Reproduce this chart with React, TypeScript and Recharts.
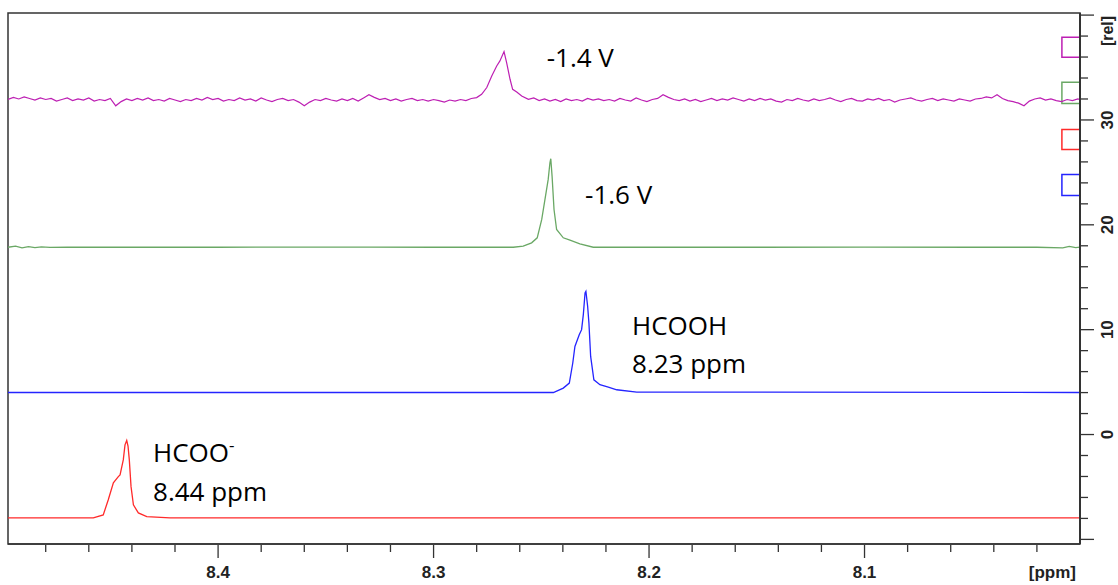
import React from 'react';
import { LineChart, Line, XAxis, YAxis, ReferenceArea, ReferenceDot } from 'recharts';

type Pt = [number, number];

const X_DOMAIN: [number, number] = [8.0, 8.4975];
const Y_DOMAIN: [number, number] = [-10.44, 40.2];

const xTicks = [
  8.02, 8.04, 8.06, 8.08, 8.1, 8.12, 8.14, 8.16, 8.18, 8.2, 8.22, 8.24,
  8.26, 8.28, 8.3, 8.32, 8.34, 8.36, 8.38, 8.4, 8.42, 8.44, 8.46, 8.48,
];
const xLabelTicks = [8.1, 8.2, 8.3, 8.4];
const yTicks = [
  -10, -8, -6, -4, -2, 0, 2, 4, 6, 8, 10, 12, 14, 16, 18, 20, 22, 24, 26, 28,
  30, 32, 34, 36, 38, 40,
];
const yLabelTicks = [0, 10, 20, 30];

// HCOO- (red, bottom trace)
const redHCOO: Pt[] = [
  [8.4975, -7.95], [8.4579, -7.95], [8.4533, -7.67], [8.451, -6.24], [8.4486, -4.61],
  [8.4463, -4.01], [8.4455, -3.85], [8.444, -2.42], [8.4432, -0.98], [8.4424, -0.57],
  [8.4418, -1.1], [8.4412, -2.42], [8.4404, -4.97], [8.4393, -6.71], [8.437, -7.48],
  [8.4331, -7.83], [8.4223, -7.95], [8.0, -7.95],
];

// HCOOH (blue)
const blueHCOOH: Pt[] = [
  [8.4975, 4.01], [8.2444, 4.01], [8.2398, 4.43], [8.237, 4.91], [8.2354, 6.82],
  [8.2344, 8.4], [8.2324, 9.52], [8.2313, 10.0], [8.2305, 11.43], [8.2297, 13.51],
  [8.2293, 13.66], [8.2285, 12.23], [8.2279, 10.64], [8.2271, 7.45], [8.2256, 5.22],
  [8.2228, 4.75], [8.2189, 4.53], [8.215, 4.27], [8.2057, 4.05], [8.0, 4.01],
];

// -1.6 V (green)
const greenMinus16: Pt[] = [
  [8.4975, 17.86], [8.494, 17.96], [8.491, 17.8], [8.488, 17.92], [8.485, 17.82],
  [8.482, 17.9], [8.478, 17.84], [8.47, 17.86], [8.4, 17.86], [8.33, 17.88],
  [8.3, 17.86], [8.263, 17.86], [8.2584, 17.96], [8.2545, 18.28], [8.2519, 18.76],
  [8.2498, 20.51], [8.2483, 22.42], [8.2468, 24.33], [8.246, 25.92], [8.2456, 26.3],
  [8.245, 24.64], [8.2441, 21.46], [8.2429, 19.55], [8.2398, 18.76], [8.2367, 18.53],
  [8.2321, 18.19], [8.2259, 17.86], [8.15, 17.86], [8.1, 17.88], [8.05, 17.86],
  [8.02, 17.86], [8.008, 17.8], [8.005, 17.95], [8.002, 17.82], [8.0, 17.88],
];

// -1.4 V (magenta, noisy)
const magentaMinus14: Pt[] = [
  [8.4975, 31.95], [8.495, 32.15], [8.4925, 32.0], [8.49, 32.2], [8.4875, 32.05],
  [8.485, 31.9], [8.4825, 32.1], [8.48, 31.95], [8.4775, 32.05], [8.475, 31.8],
  [8.4725, 31.95], [8.47, 32.1], [8.4675, 31.85], [8.465, 32.0], [8.4625, 31.9],
  [8.46, 32.1], [8.4575, 31.8], [8.455, 31.95], [8.4525, 31.85], [8.45, 32.05],
  [8.4475, 31.35], [8.445, 31.75], [8.4425, 32.0], [8.44, 31.85], [8.4375, 32.05],
  [8.435, 31.9], [8.4325, 32.1], [8.43, 31.85], [8.4275, 31.95], [8.425, 31.8],
  [8.4225, 32.05], [8.42, 31.9], [8.4175, 31.75], [8.415, 31.95], [8.4125, 31.85],
  [8.41, 32.05], [8.4075, 31.9], [8.405, 32.15], [8.4025, 31.95], [8.4, 32.05],
  [8.3975, 31.8], [8.395, 31.95], [8.3925, 31.85], [8.39, 32.1], [8.3875, 31.9],
  [8.385, 32.0], [8.3825, 31.8], [8.38, 32.1], [8.3775, 31.9], [8.375, 31.75],
  [8.3725, 31.95], [8.37, 32.05], [8.3675, 31.85], [8.365, 31.95], [8.3625, 31.7],
  [8.36, 31.35], [8.3575, 31.7], [8.355, 31.95], [8.3525, 31.85], [8.35, 32.05],
  [8.3475, 31.9], [8.345, 31.8], [8.3425, 32.0], [8.34, 31.85], [8.3375, 32.05],
  [8.335, 31.8], [8.3325, 32.1], [8.33, 32.4], [8.3275, 32.15], [8.325, 31.95],
  [8.3225, 32.05], [8.32, 31.85], [8.3175, 32.0], [8.315, 31.8], [8.3125, 31.95],
  [8.31, 32.05], [8.3075, 31.85], [8.305, 31.95], [8.3025, 31.8], [8.3, 31.95],
  [8.2975, 31.85], [8.295, 31.7], [8.2925, 31.9], [8.29, 31.8], [8.2875, 31.95],
  [8.285, 31.85], [8.2825, 32.05],
  [8.28, 32.13], [8.2777, 32.45], [8.2753, 33.09], [8.273, 34.19], [8.2707, 35.15],
  [8.2692, 35.63], [8.2673, 36.52], [8.2661, 35.47], [8.2645, 33.88], [8.2633, 32.92],
  [8.2614, 32.66], [8.2591, 32.28], [8.256, 31.97],
  [8.2535, 32.1], [8.251, 31.85], [8.2485, 32.0], [8.246, 31.8], [8.2435, 31.95],
  [8.241, 31.75], [8.2385, 32.0], [8.236, 31.85], [8.2335, 31.95], [8.231, 31.8],
  [8.2285, 32.05], [8.226, 31.9], [8.2235, 32.0], [8.221, 31.85], [8.2185, 31.95],
  [8.216, 31.8], [8.2135, 32.05], [8.211, 31.9], [8.2085, 31.8], [8.206, 32.1],
  [8.2035, 31.9], [8.201, 31.75], [8.1985, 31.95], [8.196, 32.05], [8.1935, 32.4],
  [8.191, 32.15], [8.1885, 31.95], [8.186, 31.85], [8.1835, 32.0], [8.181, 31.8],
  [8.1785, 31.95], [8.176, 31.75], [8.1735, 31.9], [8.171, 32.05], [8.1685, 31.85],
  [8.166, 32.0], [8.1635, 31.9], [8.161, 32.1], [8.1585, 31.95], [8.156, 31.8],
  [8.1535, 32.0], [8.151, 31.85], [8.1485, 32.05], [8.146, 31.9], [8.1435, 32.0],
  [8.141, 31.8], [8.1385, 31.7], [8.136, 31.95], [8.1335, 31.85], [8.131, 32.05],
  [8.1285, 31.9], [8.126, 31.8], [8.1235, 32.0], [8.121, 31.85], [8.1185, 31.95],
  [8.116, 32.1], [8.1135, 31.9], [8.111, 31.75], [8.1085, 31.95], [8.106, 32.05],
  [8.1035, 31.85], [8.101, 31.8], [8.0985, 32.0], [8.096, 31.9], [8.0935, 32.05],
  [8.091, 31.85], [8.0885, 31.95], [8.086, 31.7], [8.0835, 31.9], [8.081, 32.0],
  [8.0785, 32.1], [8.076, 31.9], [8.0735, 31.8], [8.071, 31.95], [8.0685, 32.05],
  [8.066, 31.85], [8.0635, 32.0], [8.061, 31.9], [8.0585, 31.8], [8.056, 32.0],
  [8.0535, 31.9], [8.051, 31.8], [8.0485, 32.0], [8.046, 32.05], [8.0435, 32.2],
  [8.041, 32.1], [8.0385, 32.4], [8.036, 32.05], [8.0335, 31.85], [8.031, 31.75],
  [8.0285, 31.6], [8.026, 31.35], [8.0235, 31.8], [8.021, 32.0], [8.0185, 32.1],
  [8.016, 31.9], [8.0135, 32.0], [8.011, 31.85], [8.0085, 31.75], [8.006, 31.95],
  [8.0035, 31.85], [8.001, 32.0], [8.0, 31.95],
];

const toRows = (pts: Pt[]) => pts.map(([x, y]) => ({ x, y }));

const RED = '#ff2a2a';
const BLUE = '#2424ff';
const GREEN = '#6aa865';
const MAGENTA = '#bd1fb3';
const AXIS = '#333333';

const axisFont = "'Liberation Sans', Arial, sans-serif";
const noteFont = "'Open Sans', 'Noto Sans', sans-serif";

const isIn = (list: number[], v: number) => list.some((t) => Math.abs(t - v) < 1e-6);

const XTick = (props: any) => {
  const { x, y, payload } = props;
  const major = isIn(xLabelTicks, payload.value);
  return (
    <g>
      <line x1={x} y1={y + 1} x2={x} y2={y + (major ? 14 : 8)} stroke={AXIS} strokeWidth={1.3} />
      {major && (
        <text x={x} y={y + 34} textAnchor="middle" fontFamily={axisFont} fontWeight="bold" fontSize={17} fill="#222">
          {payload.value.toFixed(1)}
        </text>
      )}
    </g>
  );
};

const YTick = (props: any) => {
  const { x, y, payload } = props;
  const v = payload.value;
  const major = v % 10 === 0;
  return (
    <g>
      <line x1={x} y1={y} x2={x + (major ? 14 : 8)} y2={y} stroke={AXIS} strokeWidth={1.3} />
      {isIn(yLabelTicks, v) && (
        <text
          transform={`translate(${x + 27},${y}) rotate(-90)`}
          textAnchor="middle"
          dominantBaseline="central"
          fontFamily={axisFont}
          fontWeight="bold"
          fontSize={17}
          fill="#222"
        >
          {v}
        </text>
      )}
    </g>
  );
};

const note = (text: React.ReactNode) => (p: any) => (
  <text x={p.cx} y={p.cy} fontFamily={noteFont} fontSize={26} fill="#000">
    {text}
  </text>
);

export default function App() {
  return (
    <div style={{ position: 'absolute', left: 0, top: 0, width: 1118, height: 585, background: '#fff' }}>
      <LineChart width={1118} height={585} margin={{ top: 13, right: 0, bottom: 0, left: 8 }}>
        <XAxis
          type="number"
          dataKey="x"
          domain={X_DOMAIN}
          reversed
          allowDataOverflow
          ticks={xTicks}
          interval={0}
          height={41}
          tickSize={0}
          tickMargin={0}
          tickLine={false}
          axisLine={{ stroke: AXIS, strokeWidth: 1.5 }}
          tick={<XTick />}
          label={{
            content: ({ viewBox }: any) => (
              <text
                x={viewBox.x + viewBox.width - 4}
                y={viewBox.y + 34}
                textAnchor="end"
                fontFamily={axisFont}
                fontWeight="bold"
                fontSize={17}
                fill="#222"
              >
                [ppm]
              </text>
            ),
          }}
        />
        <YAxis
          type="number"
          orientation="right"
          domain={Y_DOMAIN}
          allowDataOverflow
          ticks={yTicks}
          interval={0}
          width={38}
          tickSize={0}
          tickMargin={0}
          tickLine={false}
          axisLine={{ stroke: AXIS, strokeWidth: 2 }}
          tick={<YTick />}
          label={{
            content: ({ viewBox }: any) => (
              <text
                transform={`translate(${viewBox.x + 27},${viewBox.y + 18}) rotate(-90)`}
                textAnchor="middle"
                dominantBaseline="central"
                fontFamily={axisFont}
                fontWeight="bold"
                fontSize={16}
                fill="#222"
              >
                [rel]
              </text>
            ),
          }}
        />

        <ReferenceArea x1={X_DOMAIN[0]} x2={X_DOMAIN[1]} y1={Y_DOMAIN[0]} y2={Y_DOMAIN[1]} fill="none" stroke={AXIS} strokeWidth={1.5} />

        {/* legend markers */}
        <ReferenceArea x1={8.0} x2={8.0084} y1={35.98} y2={37.89} fill="none" stroke={MAGENTA} strokeWidth={1.5} />
        <ReferenceArea x1={8.0} x2={8.0084} y1={31.58} y2={33.59} fill="none" stroke={GREEN} strokeWidth={1.5} />
        <ReferenceArea x1={8.0} x2={8.0084} y1={27.19} y2={29.1} fill="none" stroke={RED} strokeWidth={1.5} />
        <ReferenceArea x1={8.0} x2={8.0084} y1={22.8} y2={24.8} fill="none" stroke={BLUE} strokeWidth={1.5} />

        <Line data={toRows(redHCOO)} dataKey="y" stroke={RED} strokeWidth={1.3} dot={false} isAnimationActive={false} />
        <Line data={toRows(blueHCOOH)} dataKey="y" stroke={BLUE} strokeWidth={1.3} dot={false} isAnimationActive={false} />
        <Line data={toRows(greenMinus16)} dataKey="y" stroke={GREEN} strokeWidth={1.3} dot={false} isAnimationActive={false} />
        <Line data={toRows(magentaMinus14)} dataKey="y" stroke={MAGENTA} strokeWidth={1.2} dot={false} isAnimationActive={false} />

        <ReferenceDot x={8.2475} y={35.02} r={0} shape={note('-1.4 V')} />
        <ReferenceDot x={8.2297} y={21.94} r={0} shape={note('-1.6 V')} />
        <ReferenceDot x={8.2079} y={9.52} r={0} shape={note('HCOOH')} />
        <ReferenceDot x={8.2079} y={5.89} r={0} shape={note('8.23 ppm')} />
        <ReferenceDot
          x={8.4302}
          y={-2.61}
          r={0}
          shape={note(
            <>
              HCOO<tspan dy={-11} fontSize={17}>-</tspan>
            </>
          )}
        />
        <ReferenceDot x={8.4302} y={-6.33} r={0} shape={note('8.44 ppm')} />
      </LineChart>
    </div>
  );
}
